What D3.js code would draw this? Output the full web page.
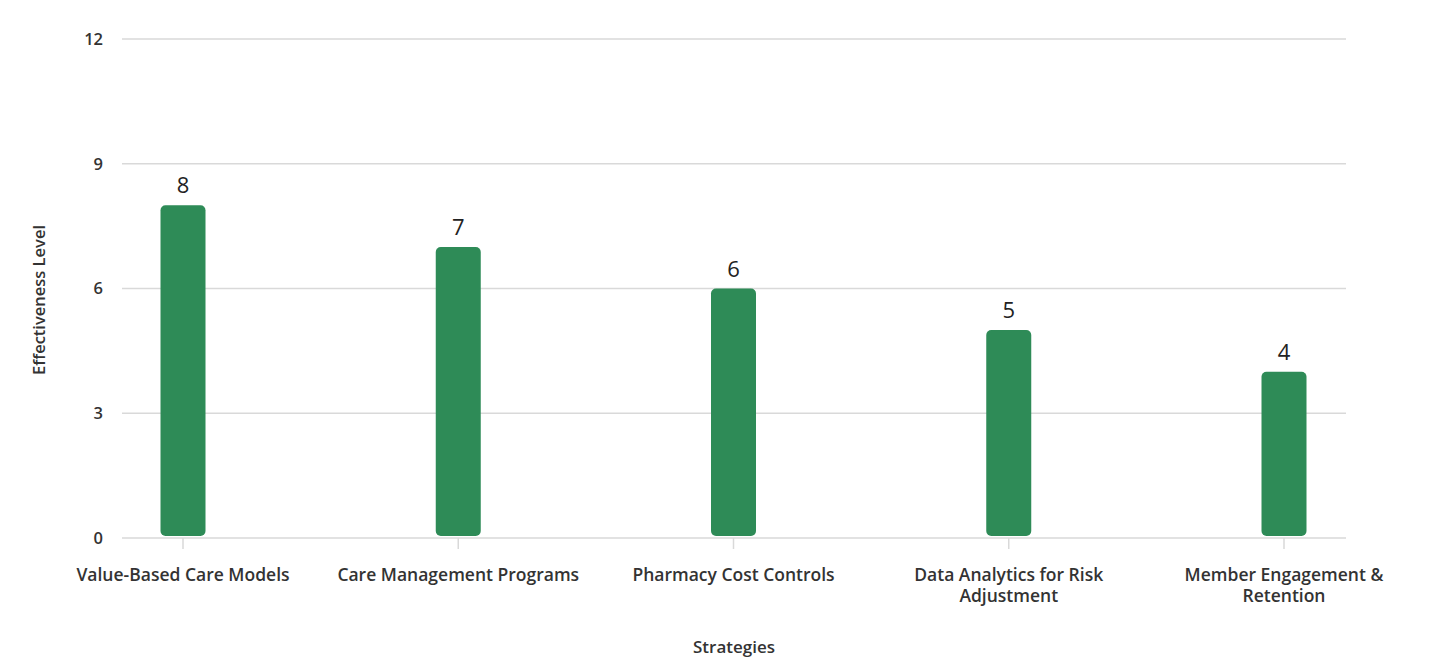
<!DOCTYPE html>
<html>
<head>
<meta charset="utf-8">
<script src="https://cdn.jsdelivr.net/npm/d3@7"></script>
<style>
  body { margin: 0; background: #fff; }
  text { font-family: "Open Sans", "Noto Sans", sans-serif; }
</style>
</head>
<body>
<svg id="chart" width="1430" height="669"></svg>
<script>
const strategies = [
    "Value-Based Care Models",
    "Care Management Programs",
    "Pharmacy Cost Controls",
    "Data Analytics for Risk Adjustment",
    "Member Engagement & Retention"
];
const effectiveness = [8, 7, 6, 5, 4];
const yTicks = [0, 3, 6, 9, 12];

const svg = d3.select('#chart');

const plotLeft = 122, plotRight = 1346, plotTop = 39, plotBottom = 538;
const barW = 45;
const labelSize = '16.5px';

const x = d3.scalePoint()
    .domain(strategies)
    .range([183, 1284]);

const y = d3.scaleLinear()
    .domain([0, 12])
    .range([plotBottom, plotTop]);

// gridlines
svg.append('g')
    .selectAll('line')
    .data(yTicks)
    .enter()
    .append('line')
    .attr('x1', plotLeft)
    .attr('x2', plotRight)
    .attr('y1', d => y(d))
    .attr('y2', d => y(d))
    .style('stroke', '#d9d9d9')
    .style('stroke-width', 1.5);

// y tick labels
svg.append('g')
    .selectAll('text')
    .data(yTicks)
    .enter()
    .append('text')
    .attr('x', 103)
    .attr('y', d => y(d))
    .attr('dy', '0.35em')
    .attr('text-anchor', 'end')
    .style('font-size', labelSize)
    .style('font-weight', 600)
    .style('fill', '#333')
    .text(d => d);

// x axis tick marks
svg.append('g')
    .selectAll('line')
    .data(strategies)
    .enter()
    .append('line')
    .attr('x1', d => x(d))
    .attr('x2', d => x(d))
    .attr('y1', plotBottom)
    .attr('y2', plotBottom + 11)
    .style('stroke', '#d9d9d9')
    .style('stroke-width', 1.5);

// bars
svg.append('g')
    .selectAll('rect')
    .data(effectiveness)
    .enter()
    .append('rect')
    .attr('x', (d, i) => x(strategies[i]) - barW / 2)
    .attr('y', d => y(d))
    .attr('width', barW)
    .attr('height', d => y(0) - y(d) - 2)
    .attr('rx', 5)
    .style('fill', '#2e8b57');

// value labels
svg.append('g')
    .selectAll('text')
    .data(effectiveness)
    .enter()
    .append('text')
    .attr('x', (d, i) => x(strategies[i]))
    .attr('y', d => y(d) - 12)
    .attr('text-anchor', 'middle')
    .style('font-size', '22px')
    .style('fill', '#222')
    .text(d => d);

// x tick labels with wrapping
const wrap = (textSel, width) => {
    textSel.each(function () {
        const t = d3.select(this);
        const words = t.text().split(/\s+/);
        const xPos = t.attr('x');
        t.text(null);
        let line = [];
        let tspan = t.append('tspan').attr('x', xPos).attr('dy', 0);
        words.forEach(w => {
            line.push(w);
            tspan.text(line.join(' '));
            if (tspan.node().getComputedTextLength() > width && line.length > 1) {
                line.pop();
                tspan.text(line.join(' '));
                line = [w];
                tspan = t.append('tspan').attr('x', xPos).attr('dy', 21).text(w);
            }
        });
    });
};

svg.append('g')
    .selectAll('text')
    .data(strategies)
    .enter()
    .append('text')
    .attr('x', d => x(d))
    .attr('y', 581)
    .attr('text-anchor', 'middle')
    .style('font-size', '17.5px')
    .style('font-weight', 600)
    .style('fill', '#333')
    .text(d => d)
    .call(wrap, 250);

// axis titles
svg.append('text')
    .attr('x', 734)
    .attr('y', 653)
    .attr('text-anchor', 'middle')
    .style('font-size', '17px')
    .style('font-weight', 600)
    .style('fill', '#333')
    .text('Strategies');

svg.append('text')
    .attr('transform', 'translate(45,300) rotate(-90)')
    .attr('text-anchor', 'middle')
    .style('font-size', labelSize)
    .style('font-weight', 600)
    .style('fill', '#333')
    .text('Effectiveness Level');
</script>
</body>
</html>
